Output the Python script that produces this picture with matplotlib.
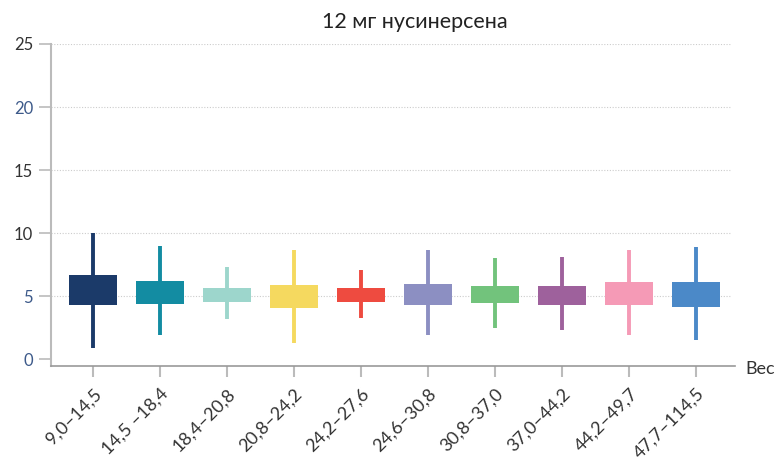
import numpy as np
import matplotlib.pyplot as plt

plt.rcParams['font.family'] = ['Lato', 'DejaVu Sans']

labels = ["9,0–14,5", "14,5 –18,4", "18,4–20,8", "20,8–24,2", "24,2–27,6",
          "24,6–30,8", "30,8–37,0", "37,0–44,2", "44,2–49,7", "47,7–114,5"]
whisker_low = [0.87, 1.88, 3.17, 1.30, 3.28, 1.93, 2.43, 2.33, 1.88, 1.51]
whisker_high = [9.98, 8.97, 7.28, 8.65, 7.06, 8.65, 7.99, 8.12, 8.65, 8.89]
box_low = [4.31, 4.39, 4.55, 4.07, 4.55, 4.31, 4.47, 4.31, 4.31, 4.15]
box_high = [6.67, 6.19, 5.63, 5.87, 5.63, 5.95, 5.79, 5.79, 6.11, 6.11]
colors = ["#1b3a69", "#138ca2", "#9dd6cc", "#f5d95f", "#ee4b40",
          "#8c8fc2", "#72c37c", "#9e619c", "#f59ab6", "#4b89c8"]

fig = plt.figure(figsize=(7.8, 4.63), dpi=100)
ax = fig.add_axes([51 / 780, 97 / 463, 684 / 780, 322 / 463])

x = np.arange(len(labels))
for i in x:
    ax.vlines(i, whisker_low[i], whisker_high[i], color=colors[i], lw=2.8, zorder=2)
    ax.bar(i, box_high[i] - box_low[i], bottom=box_low[i], width=0.72,
           color=colors[i], zorder=3)

ax.set_xlim(-0.627, 9.58)
ax.set_ylim(-0.55, 25)
ax.set_yticks([0, 5, 10, 15, 20, 25])
for yv in [5, 10, 15, 20, 25]:
    ax.plot([-0.627, 9.5], [yv, yv], linestyle=(0, (1, 1.5)), color="#cccccc",
            lw=0.8, zorder=1)

ax.set_xticks(x)
ax.set_xticklabels(labels, rotation=45, ha="right", rotation_mode="anchor",
                   fontsize=13, color="#333333")
for lab, c in zip(ax.get_yticklabels(), ["#3d5a8a", "#3d5a8a", "#333333", "#333333", "#3d5a8a", "#333333"]):
    lab.set_color(c)
ax.tick_params(axis="y", labelsize=12, length=9, color="#bbbbbb", width=1.2, pad=4)
ax.tick_params(axis="x", length=8, color="#bbbbbb", width=1.5, pad=6)

for s in ["top", "right"]:
    ax.spines[s].set_visible(False)
ax.spines["left"].set_color("#bbbbbb")
ax.spines["left"].set_linewidth(1.5)
ax.spines["bottom"].set_color("#999999")
ax.spines["bottom"].set_linewidth(1.2)

fig.text(415 / 780, 1 - 22 / 463, "12 мг нусинерсена", ha="center", va="center",
         fontsize=15.5, color="#222222")
fig.text(745 / 780, 1 - 369 / 463, "Вес", ha="left", va="center",
         fontsize=13, color="#333333")

fig.savefig("out.png", dpi=100)
